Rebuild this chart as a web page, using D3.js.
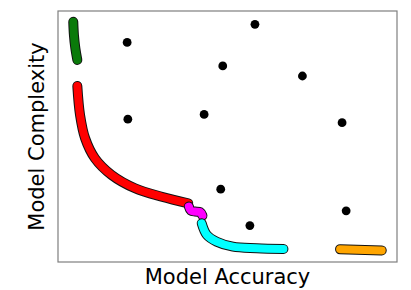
<!DOCTYPE html>
<html>
<head>
<meta charset="utf-8">
<script src="https://cdn.jsdelivr.net/npm/d3@7"></script>
<style>
  body { margin: 0; background: #fff; }
  svg { display: block; }
</style>
</head>
<body>
<div id="chart"></div>
<script>
// scattered models (black dots)
const dotsX = [0.204, 0.581, 0.486, 0.721, 0.206, 0.431, 0.838, 0.480, 0.850, 0.566];
const dotsY = [0.875, 0.947, 0.781, 0.741, 0.569, 0.588, 0.555, 0.290, 0.204, 0.145];

// thick frontier segments
const greenPts   = [[0.045, 0.957], [0.047, 0.904], [0.051, 0.853], [0.057, 0.805]];
const redPts     = [[0.057, 0.701], [0.065, 0.586], [0.080, 0.493], [0.109, 0.413], [0.158, 0.347],
                    [0.227, 0.294], [0.306, 0.260], [0.384, 0.234]];
const magentaPts = [[0.386, 0.221], [0.392, 0.205], [0.405, 0.201], [0.419, 0.199], [0.426, 0.185]];
const cyanPts    = [[0.424, 0.154], [0.439, 0.108], [0.468, 0.081], [0.516, 0.061], [0.586, 0.055], [0.665, 0.052]];
const orangePts  = [[0.832, 0.051], [0.955, 0.046]];

const segments = [
  {pts: greenPts,   color: "#0a7a0a"},
  {pts: redPts,     color: "#ff0000"},
  {pts: magentaPts, color: "#ff00ff"},
  {pts: cyanPts,    color: "#00ffff"},
  {pts: orangePts,  color: "#ffa500"}
];

const width = 411, height = 290;
const margin = {top: 11, right: 14, bottom: 28, left: 58};

const svg = d3.select("#chart").append("svg")
  .attr("width", width)
  .attr("height", height);

const x = d3.scaleLinear().domain([0, 1]).range([margin.left, width - margin.right]);
const y = d3.scaleLinear().domain([0, 1]).range([height - margin.bottom, margin.top]);

// frame
svg.append("rect")
  .attr("x", x(0))
  .attr("y", y(1))
  .attr("width", x(1) - x(0))
  .attr("height", y(0) - y(1))
  .attr("fill", "none")
  .attr("stroke", "#7f7f7f")
  .attr("stroke-width", 1.2);

const line = d3.line()
  .x(d => x(d[0]))
  .y(d => y(d[1]))
  .curve(d3.curveCatmullRom);

// outline first, then colour on top
segments.forEach(s => {
  svg.append("path")
    .attr("d", line(s.pts))
    .attr("fill", "none")
    .attr("stroke", "#111")
    .attr("stroke-width", 10)
    .attr("stroke-linecap", "round")
    .attr("stroke-linejoin", "round");
  svg.append("path")
    .attr("d", line(s.pts))
    .attr("fill", "none")
    .attr("stroke", s.color)
    .attr("stroke-width", 8)
    .attr("stroke-linecap", "round")
    .attr("stroke-linejoin", "round");
});

svg.selectAll("circle.dot")
  .data(dotsX)
  .enter()
  .append("circle")
  .attr("class", "dot")
  .attr("cx", d => x(d))
  .attr("cy", (d, i) => y(dotsY[i]))
  .attr("r", 4.4)
  .attr("fill", "#000");

// axis titles
svg.append("text")
  .attr("x", (x(0) + x(1)) / 2)
  .attr("y", 284)
  .attr("text-anchor", "middle")
  .style("font-family", "DejaVu Sans")
  .style("font-size", "21px")
  .text("Model Accuracy");

svg.append("text")
  .attr("transform", "translate(44," + (y(0) + y(1)) / 2 + ") rotate(-90)")
  .attr("text-anchor", "middle")
  .style("font-family", "DejaVu Sans")
  .style("font-size", "21px")
  .text("Model Complexity");
</script>
</body>
</html>
